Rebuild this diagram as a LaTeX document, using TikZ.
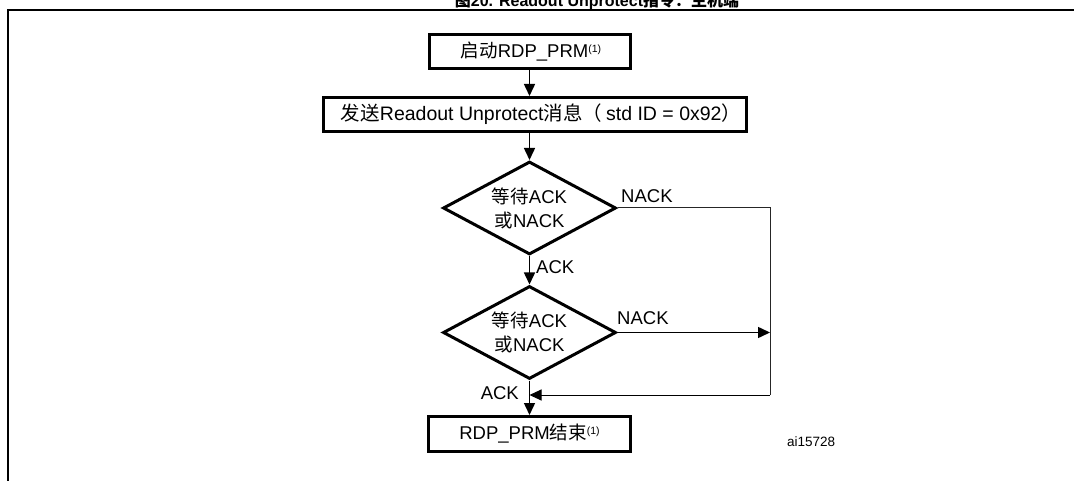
\documentclass[tikz,border=0pt]{standalone}
\usepackage{fontspec}
\setmainfont{Liberation Sans}
\newfontfamily\cjk{Noto Sans CJK SC}
\usetikzlibrary{arrows.meta,shapes.geometric}
\newcommand{\fn}{\raisebox{5pt}{\fontsize{10.5}{11}\selectfont(1)}}
\tikzset{
  body/.style={font=\fontsize{18.5}{24}\selectfont},
  stepbox/.style={draw, line width=3pt, inner sep=0pt, body},
  decision/.style={draw, diamond, line width=3pt, inner sep=0pt, aspect=1.83, align=center, body},
  arr/.style={line width=1.5pt, -{Triangle[length=12pt,width=11pt]}},
  thin/.style={line width=1pt, draw=black!85},
  lbl/.style={inner sep=0pt, body}
}
\begin{document}
\begin{tikzpicture}[x=1pt,y=-1pt]
\useasboundingbox (0,0) rectangle (1074,481);
% frame
\draw[line width=2.8pt] (8,481) -- (8,10) -- (1074,10);
% title
\node[anchor=base, inner sep=0pt, font=\fontsize{16}{18}\selectfont\bfseries] (title) at (597,6.5) {{\cjk 图}20. Readout Unprotect{\cjk 指令：主机端}};
% nodes
\node[stepbox, minimum width=201pt, minimum height=34pt] (b1) at (529.5,51.5) {\hspace{3pt}{\cjk 启动}RDP\_PRM\fn};
\node[stepbox, minimum width=423pt, minimum height=34pt, font=\fontsize{19.5}{24}\selectfont] (b2) at (535,114.5) {\hspace{12pt}{\cjk 发送}Readout Unprotect{\cjk 消息（}\hspace{4pt}std ID = 0x92{\cjk ）}};
\node[decision, minimum width=173pt, minimum height=93pt] (d1) at (529.5,208) {{\cjk 等待}ACK\\{\cjk 或}NACK};
\node[decision, minimum width=173pt, minimum height=93pt] (d2) at (529.5,332.5) {{\cjk 等待}ACK\\{\cjk 或}NACK};
\node[stepbox, minimum width=202pt, minimum height=35pt] (b3) at (529.5,434) {RDP\_PRM{\cjk 结束}\fn};
\node[inner sep=0pt, anchor=west, font=\fontsize{13.5}{15}\selectfont] (id) at (787,442) {ai15728};
% coordinates
\coordinate (c1) at (770,208);
\coordinate (c2) at (770,395);
\coordinate (j) at (529.5,395);
% connectors
\draw[arr] (b1.south) -- (b1.south |- b2.north);
\draw[arr] (b1.south |- b2.south) -- (d1.north);
\draw[arr] (d1.south) -- (d2.north);
\draw[arr] (d2.south) -- (b3.north);
\draw[thin] (d1.east) -- (c1) -- (c2);
\draw[arr, line width=1pt] (c2) -- (j);
\draw[arr] (d2.east) -- (d2.east -| c1);
% labels
\node[lbl, anchor=west] (n1) at (621,196) {NACK};
\node[lbl, anchor=west] (a1) at (536,267) {ACK};
\node[lbl, anchor=west] (n2) at (617,318) {NACK};
\node[lbl, anchor=east] (a2) at (519,393) {ACK};
\end{tikzpicture}
\end{document}
